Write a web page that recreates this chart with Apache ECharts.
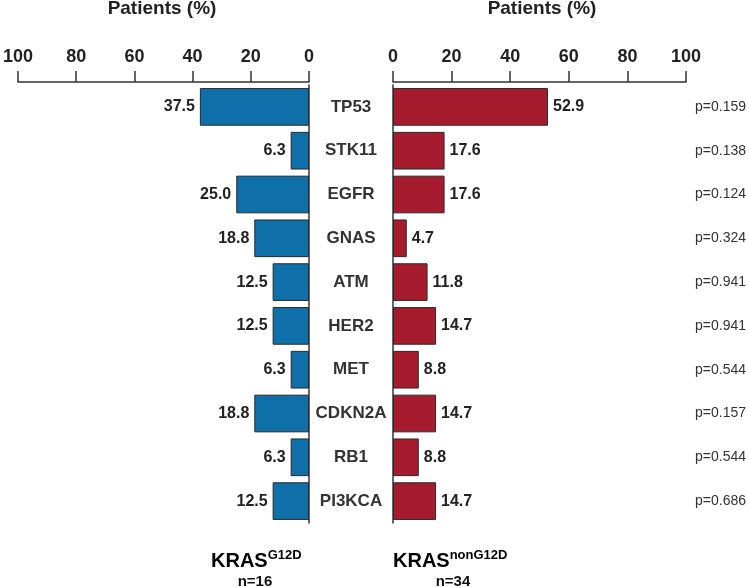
<!DOCTYPE html>
<html>
<head>
<meta charset="utf-8">
<script src="https://cdn.jsdelivr.net/npm/echarts@6/dist/echarts.min.js"></script>
<style>
html,body{margin:0;padding:0;background:#fff;}
#chart{width:749px;height:587px;}
</style>
</head>
<body>
<div id="chart"></div>
<script>
const genes = ['TP53','STK11','EGFR','GNAS','ATM','HER2','MET','CDKN2A','RB1','PI3KCA'];
const g12d = [37.5,6.3,25.0,18.8,12.5,12.5,6.3,18.8,6.3,12.5];
const nonG12d = [52.9,17.6,17.6,4.7,11.8,14.7,8.8,14.7,8.8,14.7];
const pValues = ['p=0.159','p=0.138','p=0.124','p=0.324','p=0.941','p=0.941','p=0.544','p=0.157','p=0.544','p=0.686'];
const xTicks = [0,20,40,60,80,100];

const FONT = '"Liberation Sans", Arial, sans-serif';
const NARROW = '"Liberation Sans Narrow", "Arial Narrow", "Liberation Sans", Arial, sans-serif';
const TXT = '#222';
const AX = '#333';

const chart = echarts.init(document.getElementById('chart'), null, {renderer:'canvas'});

const valueAxis = (gi, inverse) => ({
  type:'value', gridIndex:gi, position:'top', inverse:inverse,
  min:xTicks[0], max:xTicks[xTicks.length-1], interval:20, offset:3,
  axisLine:{show:true, lineStyle:{color:AX, width:1.5}},
  axisTick:{show:true, length:11, lineStyle:{color:AX, width:1.5}},
  axisLabel:{fontFamily:NARROW, fontWeight:'bold', fontSize:18, color:TXT, margin:16},
  splitLine:{show:false}
});

const labelStyle = (pos) => ({
  show:true, position:pos, distance:5,
  fontFamily:FONT, fontWeight:'bold', fontSize:16, color:TXT,
  formatter: p => p.value.toFixed(1)
});

chart.setOption({
  animation:false,
  backgroundColor:'#fff',
  grid:[
    {left:12, width:297, top:85, height:438},
    {left:393, width:295, top:85, height:438}
  ],
  xAxis:[valueAxis(0,true), valueAxis(1,false)],
  yAxis:[
    {type:'category', gridIndex:0, data:genes, inverse:true, position:'right',
     axisLine:{show:true, onZero:false, lineStyle:{color:AX, width:1.5}},
     axisTick:{show:false},
     axisLabel:{fontFamily:FONT, fontWeight:'bold', fontSize:17, color:'#333', margin:42, align:'center'}},
    {type:'category', gridIndex:1, data:genes, inverse:true, position:'left',
     axisLine:{show:true, onZero:false, lineStyle:{color:AX, width:1.5}},
     axisTick:{show:false}, axisLabel:{show:false}},
    {type:'category', gridIndex:1, data:pValues, inverse:true, position:'right',
     axisLine:{show:false}, axisTick:{show:false},
     axisLabel:{fontFamily:FONT, fontSize:14, color:'#333', margin:9, align:'left', padding:[0,0,8,0]}}
  ],
  series:[
    {type:'bar', name:'KRAS G12D', xAxisIndex:0, yAxisIndex:0, data:g12d, barWidth:'86%',
     itemStyle:{color:'#0f6fa8', borderColor:'#2a2a2a', borderWidth:1},
     label:labelStyle('left')},
    {type:'bar', name:'KRAS nonG12D', xAxisIndex:1, yAxisIndex:1, data:nonG12d, barWidth:'86%',
     itemStyle:{color:'#a61c2e', borderColor:'#2a2a2a', borderWidth:1},
     label:labelStyle('right')}
  ],
  graphic:[
    {type:'text', x:162, y:9, style:{text:'Patients (%)', font:'bold 19px '+FONT, fill:TXT, align:'center', verticalAlign:'middle'}},
    {type:'text', x:542, y:9, style:{text:'Patients (%)', font:'bold 19px '+FONT, fill:TXT, align:'center', verticalAlign:'middle'}},
    {type:'text', x:211, y:561, style:{
      text:'{b|KRAS}{s|G12D}', align:'left', verticalAlign:'middle',
      rich:{b:{fontFamily:FONT, fontWeight:'bold', fontSize:20, color:'#111'},
            s:{fontFamily:FONT, fontWeight:'bold', fontSize:13, color:'#111', padding:[0,0,12,0]}}}},
    {type:'text', x:393, y:561, style:{
      text:'{b|KRAS}{s|nonG12D}', align:'left', verticalAlign:'middle',
      rich:{b:{fontFamily:FONT, fontWeight:'bold', fontSize:20, color:'#111'},
            s:{fontFamily:FONT, fontWeight:'bold', fontSize:13, color:'#111', padding:[0,0,12,0]}}}},
    {type:'text', x:255, y:582, style:{text:'n=16', font:'bold 15px '+FONT, fill:'#111', align:'center', verticalAlign:'middle'}},
    {type:'text', x:453, y:582, style:{text:'n=34', font:'bold 15px '+FONT, fill:'#111', align:'center', verticalAlign:'middle'}}
  ]
});
</script>
</body>
</html>
